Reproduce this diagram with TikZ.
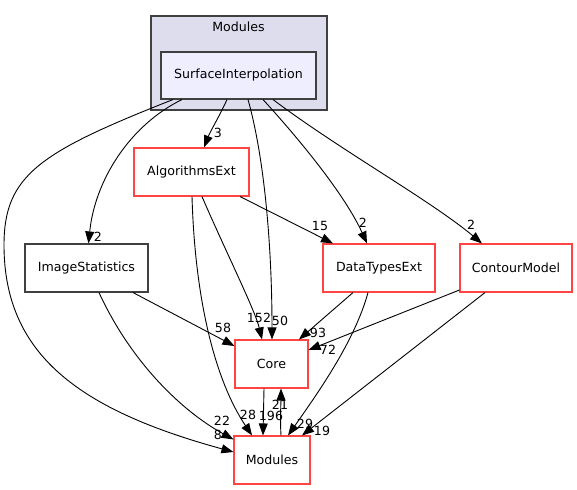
\documentclass[tikz,border=0pt]{standalone}
\usepackage{fontspec}
\setmainfont{DejaVu Sans}
\usetikzlibrary{calc,arrows.meta}
\definecolor{dirred}{HTML}{FF4444}
\definecolor{dirgray}{HTML}{404040}
\definecolor{groupfill}{HTML}{DDDDEE}
\definecolor{selffill}{HTML}{EEEEFF}
\tikzset{
	dirbox/.style={draw=dirred, line width=1.1pt, fill=white, minimum height=48pt, font=\fontsize{12.6}{14}\selectfont, inner sep=0pt},
	plainbox/.style={dirbox, draw=dirgray},
	groupbox/.style={draw=dirgray, line width=1.1pt, fill=groupfill, inner sep=0pt},
	selfbox/.style={dirbox, draw=dirgray, fill=selffill, minimum height=47pt},
	dep/.style={line width=0.9pt, -{Triangle[length=12pt,width=9pt]}},
	cnt/.style={font=\fontsize{12.6}{14}\selectfont, inner sep=0pt}
}

\begin{document}
\begin{tikzpicture}[x=1pt, y=-1pt]
			%%%%% START %%%%%
			\useasboundingbox (0, 0) rectangle (577, 489);

			\node[groupbox, minimum width=176pt, minimum height=94pt] (grp) at (239, 63) {};
			\node[cnt] (grplabel) at (238.5, 27) {Modules};
			\node[selfbox, minimum width=155pt] (si) at (238.5, 75.5) {SurfaceInterpolation};

			\node[dirbox, minimum width=115pt] (algo) at (191.5, 172) {AlgorithmsExt};
			\node[plainbox, minimum width=123pt] (imgs) at (86.5, 268) {ImageStatistics};
			\node[dirbox, minimum width=112pt] (dte) at (379, 268) {DataTypesExt};
			\node[dirbox, minimum width=112pt] (cm) at (516, 268) {ContourModel};
			\node[dirbox, minimum width=73pt] (core) at (271.5, 364) {Core};
			\node[dirbox, minimum width=76pt] (mod) at (272, 460) {Modules};

			%%%%% SurfaceInterpolation %%%%%
			\draw[dep] ($(si.south)+(-65.5, 0)$) .. controls (40, 152) and (4, 175) .. (4, 245)
				.. controls (4, 355) and (80, 410) .. ($(mod.west)+(0, -8)$);
			\draw[dep] ($(si.south)+(-56.5, 0)$) .. controls (130, 125) and (95, 180) .. ($(imgs.north)+(2, 0)$);
			\draw[dep] ($(si.south)+(-11.5, 0)$) .. controls (220, 115) and (210, 132) .. ($(algo.north)+(12.5, 0)$);
			\draw[dep] ($(si.south)+(9.5, 0)$) .. controls (265, 160) and (272, 250) .. ($(core.north)+(0.5, 0)$);
			\draw[dep] ($(si.south)+(24.5, 0)$) .. controls (300, 140) and (345, 195) .. ($(dte.north)+(-12, 0)$);
			\draw[dep] ($(si.south)+(34.5, 0)$) .. controls (340, 150) and (430, 200) .. ($(cm.north)+(-34, 0)$);

			\node[cnt] (l8) at (218, 435) {8};
			\node[cnt] (l2a) at (98, 237) {2};
			\node[cnt] (l3) at (218, 133) {3};
			\node[cnt] (l50) at (280, 321) {50};
			\node[cnt] (l2b) at (363, 223) {2};
			\node[cnt] (l2c) at (471, 225) {2};

			%%%%% AlgorithmsExt %%%%%
			\draw[dep] ($(algo.south)+(48.5, 0)$) -- ($(dte.north)+(-46, 0)$);
			\draw[dep] ($(algo.south)+(10.5, 0)$) .. controls (225, 250) and (255, 310) .. ($(core.north)+(-9.5, 0)$);
			\draw[dep] ($(algo.south)+(0.5, 0)$) .. controls (195, 300) and (215, 380) .. ($(mod.north)+(-20, 0)$);

			\node[cnt] (l15) at (320, 226) {15};
			\node[cnt] (l152) at (259, 318) {152};
			\node[cnt] (l28) at (248, 415) {28};

			%%%%% ImageStatistics %%%%%
			\draw[dep] ($(imgs.south)+(46.5, 0)$) -- ($(core.west)+(0, -18)$);
			\draw[dep] ($(imgs.south)+(12.5, 0)$) .. controls (130, 360) and (180, 410) .. ($(mod.north west)+(0, 4)$);

			\node[cnt] (l58) at (223, 328) {58};
			\node[cnt] (l22) at (222, 421) {22};

			%%%%% DataTypesExt and ContourModel %%%%%
			\draw[dep] ($(dte.south)+(-26, 0)$) -- ($(core.north)+(27.5, 0)$);
			\draw[dep] ($(dte.south)+(-11, 0)$) .. controls (355, 340) and (320, 390) .. ($(mod.north)+(16, 0)$);
			\draw[dep] ($(cm.west)+(0, 22)$) -- ($(core.east)+(0, -14)$);
			\draw[dep] ($(cm.south)+(-31, 0)$) -- ($(mod.north)+(30, 0)$);

			\node[cnt] (l93) at (318, 333) {93};
			\node[cnt] (l29) at (305, 424) {29};
			\node[cnt] (l72) at (328, 350) {72};
			\node[cnt] (l19) at (322, 431) {19};

			%%%%% Core and Modules %%%%%
			\draw[dep] ($(core.south)+(-7.5, 0)$) -- ($(mod.north)+(-9, 0)$);
			\draw[dep] ($(mod.north)+(9, 0)$) .. controls (280, 420) and (281, 400) .. ($(core.south)+(9.5, 0)$);

			\node[cnt] (l196) at (271, 416) {196};
			\node[cnt] (l21) at (280, 405) {21};
			%%%%% END %%%%%
\end{tikzpicture}
\end{document}
